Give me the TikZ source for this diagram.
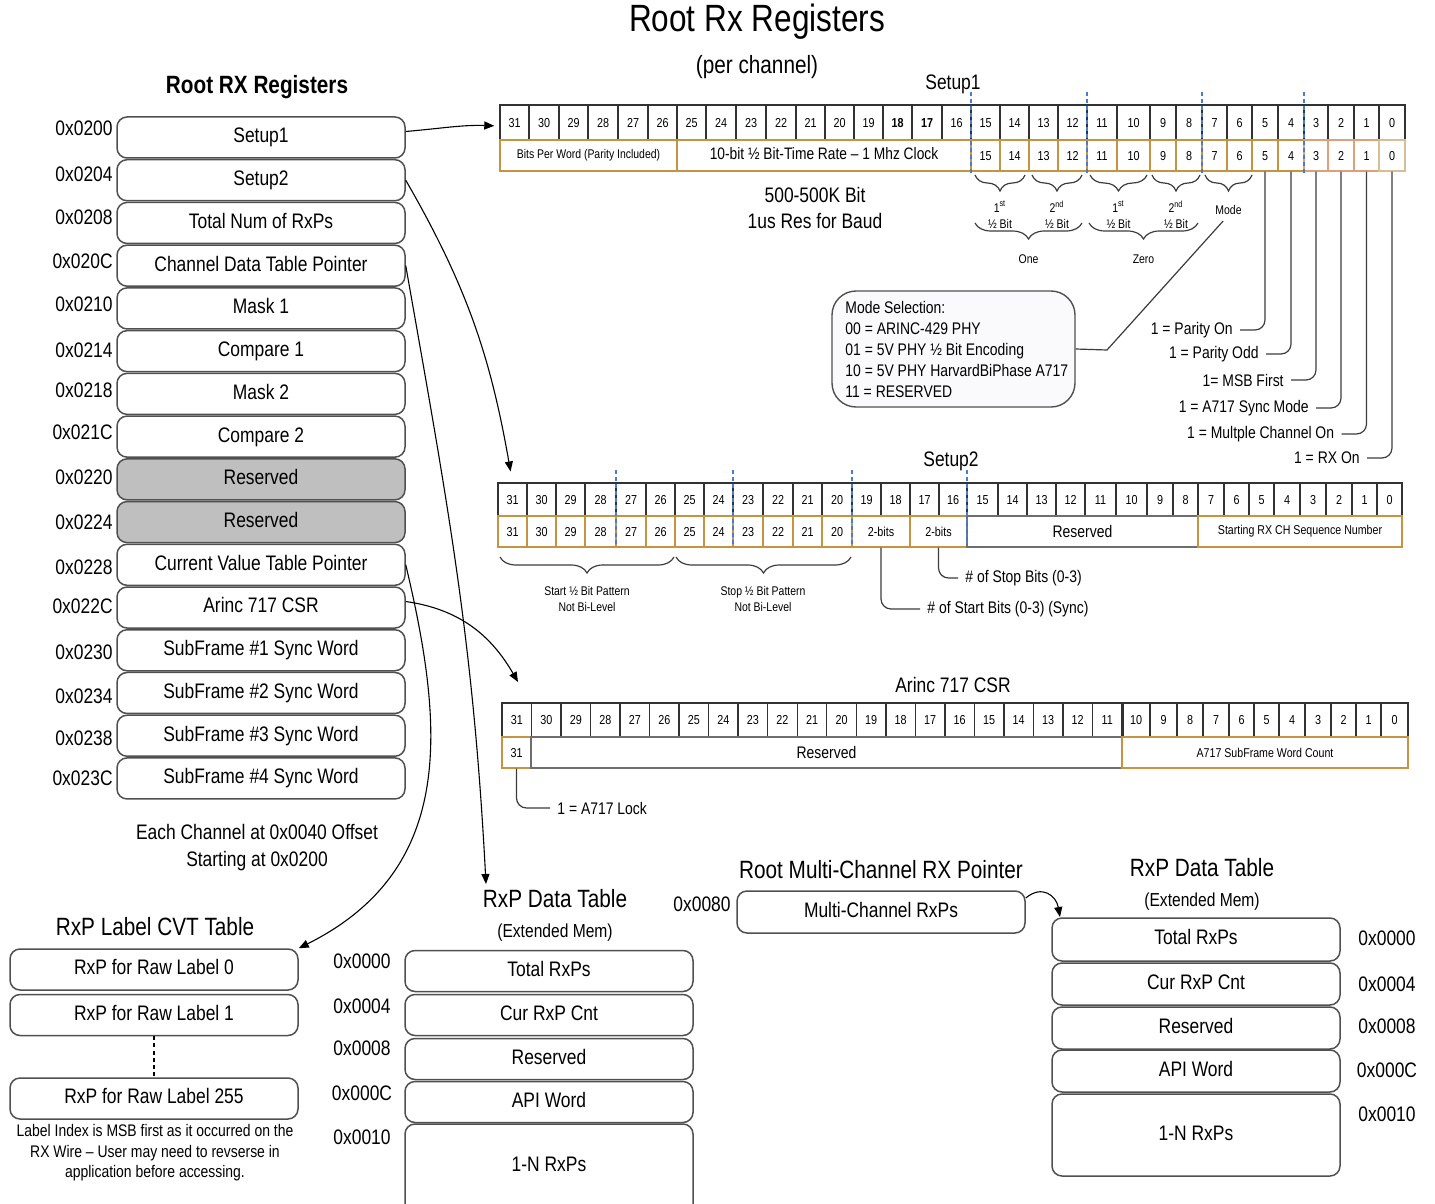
\documentclass[tikz,border=0pt]{standalone}
\usepackage{fontspec}
\setmainfont{Liberation Sans}[FakeStretch=0.83]
\usetikzlibrary{arrows.meta,decorations.pathreplacing}
\newcommand\fsz[2]{\fontsize{#1pt}{#2pt}\selectfont}
\definecolor{boxline}{RGB}{80,80,80}
\definecolor{regline}{RGB}{50,50,50}
\definecolor{gold}{RGB}{196,148,66}
\definecolor{goldred}{RGB}{222,160,120}
\definecolor{goldlt}{RGB}{215,190,150}
\definecolor{rsvline}{RGB}{110,110,110}
\definecolor{rsvfill}{RGB}{191,191,191}
\definecolor{dashblue}{RGB}{70,125,210}
\definecolor{lineclr}{RGB}{60,60,60}
\definecolor{modefill}{RGB}{250,250,252}
\begin{document}
\begin{tikzpicture}[x=0.5pt,y=-0.5pt,
  every node/.style={inner sep=0pt},
  regbox/.style={draw=boxline, line width=0.75pt, rounded corners=5pt, fill=white,
    minimum width=144pt, minimum height=20.5pt, font=\fsz{10.5}{12.6},
    text height=7.6pt, text depth=2.2pt},
  addr/.style={font=\fsz{10.5}{12.6}},
  ttl/.style={font=\fsz{12.5}{15}},
  cellbase/.style={line width=0.7pt, font=\fsz{6.5}{7.8}, text height=4.7pt, text depth=0pt},
  cellT/.style={cellbase, draw=regline},
  cellTb/.style={cellbase, draw=regline, line width=1.3pt, font=\fsz{6.5}{7.8}\bfseries},
  cellG/.style={cellbase, draw=gold},
  cellO/.style={cellbase, draw=goldred},
  cellL/.style={cellbase, draw=goldlt},
  cellR/.style={draw=rsvline, line width=0.7pt, font=\fsz{8.4}{10}},
  smalltxt/.style={font=\fsz{6.3}{8.3}, align=center},
  note/.style={font=\fsz{8.4}{10.5}},
  wire/.style={draw=lineclr, line width=0.6pt},
  brc/.style={draw=lineclr, line width=0.6pt, decorate, decoration={brace, mirror, amplitude=8pt}},
  bdash/.style={draw=dashblue, line width=0.6pt, dash pattern=on 2pt off 1.5pt},
  conn/.style={draw=black, line width=0.55pt, -{Triangle[length=5pt,width=4pt]}},
]
\useasboundingbox (0,0) rectangle (1435,1204);
\clip (0,0) rectangle (1435,1204);

% ---------- titles ----------
\node[font=\fsz{19}{22}] (maintitle) at (757,22) {Root Rx Registers};
\node[ttl] (perch) at (757,67) {(per channel)};
\node[font=\fsz{12.5}{15}\bfseries] (lefttitle) at (257,87) {Root RX Registers};

% ---------- left register column ----------
\foreach \i/\t/\a/\ay/\f in {
0/Setup1/0x0200/128/white,
1/Setup2/0x0204/174/white,
2/Total Num of RxPs/0x0208/217/white,
3/Channel Data Table Pointer/0x020C/261/white,
4/Mask 1/0x0210/304/white,
5/Compare 1/0x0214/350/white,
6/Mask 2/0x0218/390/white,
7/Compare 2/0x021C/432/white,
8/Reserved/0x0220/477/rsvfill,
9/Reserved/0x0224/522/rsvfill,
10/Current Value Table Pointer/0x0228/567/white,
11/Arinc 717 CSR/0x022C/606/white,
12/SubFrame \#1 Sync Word/0x0230/652/white,
13/SubFrame \#2 Sync Word/0x0234/696/white,
14/SubFrame \#3 Sync Word/0x0238/738/white,
15/SubFrame \#4 Sync Word/0x023C/778/white}{
  \node[regbox, fill=\f] (L\i) at (261,{137.5+\i*42.73}) {\t};
  \node[addr, anchor=east] (A\i) at (113,\ay) {\a};
}
\node[addr, align=center, font=\fsz{10.5}{13.5}] (offs) at (257,848) {Each Channel at 0x0040 Offset\\Starting at 0x0200};

% ---------- Setup1 register ----------
\node[addr] (s1title) at (953,84) {Setup1};
\foreach \l/\r/\t/\s in {500/529/31/cellT, 529/559/30/cellT, 559/588/29/cellT, 588/618/28/cellT,
  618/648/27/cellT, 648/677/26/cellT, 677/706/25/cellT, 706/736/24/cellT, 736/766/23/cellT,
  766/796/22/cellT, 796/825/21/cellT, 825/854/20/cellT, 854/883/19/cellT, 883/912/18/cellTb,
  912/942/17/cellTb, 942/971/16/cellT, 971/1000/15/cellT, 1000/1029/14/cellT, 1029/1058/13/cellT,
  1058/1087/12/cellT, 1087/1117/11/cellT, 1117/1150/10/cellT, 1150/1176/9/cellT, 1176/1202/8/cellT,
  1202/1227/7/cellT, 1227/1252/6/cellT, 1252/1278/5/cellT, 1278/1304/4/cellT, 1304/1328/3/cellT,
  1328/1354/2/cellT, 1354/1379/1/cellT, 1379/1405/0/cellT}{
  \pgfmathsetmacro\w{(\r-\l)/2}
  \node[\s, minimum width=\w pt, minimum height=17.5pt] (s1t\t) at ({(\l+\r)/2},122.5) {\t};
}
\node[cellG, minimum width=88.5pt, minimum height=15.5pt, font=\fsz{6.3}{7.5}, text depth=1.3pt] (s1bpw) at (588.5,155.5) {Bits Per Word (Parity Included)};
\node[cellG, minimum width=147pt, minimum height=15.5pt, font=\fsz{8.3}{10}, text height=6pt, text depth=1.6pt] (s1brate) at (824,155.5) {10-bit ½ Bit-Time Rate – 1 Mhz Clock};
\foreach \l/\r/\t/\s in {971/1000/15/cellG, 1000/1029/14/cellG, 1029/1058/13/cellG, 1058/1087/12/cellG,
  1087/1117/11/cellG, 1117/1150/10/cellG, 1150/1176/9/cellG, 1176/1202/8/cellG, 1202/1227/7/cellG,
  1227/1252/6/cellG, 1252/1278/5/cellG, 1278/1304/4/cellG, 1304/1328/3/cellO, 1328/1354/2/cellO,
  1354/1379/1/cellO, 1379/1405/0/cellL}{
  \pgfmathsetmacro\w{(\r-\l)/2}
  \node[\s, minimum width=\w pt, minimum height=15.5pt] (s1b\t) at ({(\l+\r)/2},155.5) {\t};
}
\foreach \x in {971,1087,1202,1304}{\draw[bdash] (\x,92) -- (\x,175);}

\node[addr, align=center, font=\fsz{10.5}{13}] (baud) at (815,208) {500-500K Bit\\1us Res for Baud};

% braces Setup1
\draw[brc] (975,175) -- (1025,175);
\draw[brc] (1032,175) -- (1082,175);
\draw[brc] (1090,175) -- (1147,175);
\draw[brc] (1152,175) -- (1200,175);
\draw[brc] (1205,175) -- (1252,175);
\draw[brc] (975,223) -- (1082,223);
\draw[brc] (1089,223) -- (1198,223);
\node[smalltxt] (h1) at (1000,215) {1\textsuperscript{st}\\½ Bit};
\node[smalltxt] (h2) at (1057,215) {2\textsuperscript{nd}\\½ Bit};
\node[smalltxt] (h3) at (1118.5,215) {1\textsuperscript{st}\\½ Bit};
\node[smalltxt] (h4) at (1176,215) {2\textsuperscript{nd}\\½ Bit};
\node[smalltxt] (modelab) at (1228.5,210) {Mode};
\node[smalltxt] (one) at (1028.5,259) {One};
\node[smalltxt] (zero) at (1143.5,259) {Zero};

% mode box
\node[draw=boxline, line width=0.7pt, rounded corners=12pt, fill=modefill, minimum width=121.5pt, minimum height=58pt] (modebox) at (953.5,349) {};
\node[note, align=left, anchor=west, font=\fsz{8.4}{10.5}] (modetxt) at (845,349) {Mode Selection:\\00 = ARINC-429 PHY\\01 = 5V PHY ½ Bit Encoding\\10 = 5V PHY HarvardBiPhase A717\\11 = RESERVED};
\draw[wire, shorten <=4pt] (modelab.south) -- (1107,350) -- (modebox.east);

% bit descriptions
\node[note, anchor=east, inner xsep=3.5pt] (bl5) at (1240,330) {1 = Parity On};
\node[note, anchor=east, inner xsep=3.5pt] (bl4) at (1266,354) {1 = Parity Odd};
\node[note, anchor=east, inner xsep=3.5pt] (bl3) at (1291,380) {1= MSB First};
\node[note, anchor=east, inner xsep=3.5pt] (bl2) at (1316,408) {1 = A717 Sync Mode};
\node[note, anchor=east, inner xsep=3.5pt] (bl1) at (1341.5,434) {1 = Multple Channel On};
\node[note, anchor=east, inner xsep=3.5pt] (bl0) at (1367,458) {1 = RX On};
\foreach \b in {5,4,3,2,1,0}{\draw[wire, rounded corners=5pt] (s1b\b.south) |- (bl\b.east);}

% ---------- Setup2 register ----------
\node[addr] (s2title) at (951,461) {Setup2};
\foreach \l/\r/\t in {498/527/31, 527/556/30, 556/585/29, 585/616/28, 616/646/27, 646/675/26,
  675/704/25, 704/733/24, 733/763/23, 763/793/22, 793/822/21, 822/852/20, 852/881/19, 881/910/18,
  910/939/17, 939/967/16, 967/998/15, 998/1027/14, 1027/1056/13, 1056/1085/12, 1085/1116/11,
  1116/1147/10, 1147/1173/9, 1173/1198/8, 1198/1224/7, 1224/1249/6, 1249/1274/5, 1274/1300/4,
  1300/1326/3, 1326/1352/2, 1352/1377/1, 1377/1402/0}{
  \pgfmathsetmacro\w{(\r-\l)/2}
  \node[cellT, minimum width=\w pt, minimum height=16.5pt] (s2t\t) at ({(\l+\r)/2},499.5) {\t};
}
\foreach \l/\r/\t in {498/527/31, 527/556/30, 556/585/29, 585/616/28, 616/646/27, 646/675/26,
  675/704/25, 704/733/24, 733/763/23, 763/793/22, 793/822/21, 822/852/20}{
  \pgfmathsetmacro\w{(\r-\l)/2}
  \node[cellG, minimum width=\w pt, minimum height=15.5pt] (s2b\t) at ({(\l+\r)/2},531.5) {\t};
}
\node[cellG, minimum width=29pt, minimum height=15.5pt] (s2bA) at (881,531.5) {2-bits};
\node[cellG, minimum width=28.5pt, minimum height=15.5pt] (s2bB) at (938.5,531.5) {2-bits};
\node[cellR, minimum width=115.5pt, minimum height=15.5pt] (s2bR) at (1082.5,531.5) {Reserved};
\node[cellG, minimum width=102pt, minimum height=15.5pt, font=\fsz{6.4}{7.6}, text depth=1.3pt] (s2bS) at (1300,531.5) {Starting RX CH Sequence Number};
\foreach \x in {616,733,852,967}{\draw[bdash] (\x,470) -- (\x,547);}
\draw[brc] (500,557) -- (674,557);
\draw[brc] (676,557) -- (851,557);
\node[smalltxt, font=\fsz{6.3}{8}] (startpat) at (587,599) {Start ½ Bit Pattern\\Not Bi-Level};
\node[smalltxt, font=\fsz{6.3}{8}] (stoppat) at (763,599) {Stop ½ Bit Pattern\\Not Bi-Level};
\node[note, anchor=west, inner xsep=3.5pt] (stopb) at (958,578) {\# of Stop Bits (0-3)};
\node[note, anchor=west, inner xsep=3.5pt] (startb) at (920,609) {\# of Start Bits (0-3) (Sync)};
\draw[wire, rounded corners=5pt] (s2bB.south) |- (stopb.west);
\draw[wire, rounded corners=5pt] (s2bA.south) |- (startb.west);

% ---------- Arinc 717 CSR ----------
\node[addr] (a7title) at (953,685) {Arinc 717 CSR};
\foreach \i in {0,...,20}{
  \pgfmathsetmacro\xc{502+\i*620/21+620/42}
  \pgfmathtruncatemacro\b{31-\i}
  \node[cellT, minimum width=14.762pt, minimum height=17pt] (a7t\b) at (\xc,720) {\b};
}
\foreach \l/\r/\t in {1122/1150/10, 1150/1177/9, 1177/1203/8, 1203/1229/7, 1229/1254/6,
  1254/1279/5, 1279/1305/4, 1305/1331/3, 1331/1356/2, 1356/1381/1, 1381/1408/0}{
  \pgfmathsetmacro\w{(\r-\l)/2}
  \node[cellT, minimum width=\w pt, minimum height=17pt] (a7t\t) at ({(\l+\r)/2},720) {\t};
}
\draw[draw=regline, line width=1.3pt] (a7t11.north east) -- (a7t11.south east);
\node[cellG, minimum width=14.5pt, minimum height=15.5pt] (a7b31) at (516.5,752.5) {31};
\node[cellR, minimum width=295.5pt, minimum height=15.5pt] (a7bR) at (826.5,752.5) {Reserved};
\node[cellG, minimum width=143pt, minimum height=15.5pt, font=\fsz{6.4}{7.6}] (a7bC) at (1265,752.5) {A717 SubFrame Word Count};
\node[note, anchor=west, inner xsep=3.5pt] (lock) at (550,808) {1 = A717 Lock};
\draw[wire, rounded corners=5pt] (a7b31.south) |- (lock.west);

% ---------- RxP Label CVT table ----------
\node[ttl] (cvttitle) at (155,927) {RxP Label CVT Table};
\node[regbox] (C0) at (154,969.5) {RxP for Raw Label 0};
\node[regbox] (C1) at (154,1015) {RxP for Raw Label 1};
\node[regbox] (C2) at (154,1098.5) {RxP for Raw Label 255};
\draw[draw=black, line width=1.2pt, dash pattern=on 2pt off 1.6pt] (C1.south) -- (C2.north);
\node[align=center, font=\fsz{8.4}{10.3}] (cvtnote) at (155,1153) {Label Index is MSB first as it occurred on the\\RX Wire – User may need to revserse in\\application before accessing.};

% ---------- middle RxP Data Table ----------
\node[ttl] (mdt) at (555,899) {RxP Data Table};
\node[font=\fsz{9.4}{11}] (mdtsub) at (555,933) {(Extended Mem)};
\node[regbox] (D0) at (549,971) {Total RxPs};
\node[regbox] (D1) at (549,1015) {Cur RxP Cnt};
\node[regbox] (D2) at (549,1059) {Reserved};
\node[regbox] (D3) at (549,1102) {API Word};
\node[regbox, minimum height=46pt] (D4) at (549,1170) {};
\node[font=\fsz{10.5}{12.6}] (D4t) at (549,1164) {1-N RxPs};
\foreach \t/\y in {0x0000/961, 0x0004/1006, 0x0008/1048, 0x000C/1093, 0x0010/1137}{
  \node[addr] (md\y) at (362,\y) {\t};
}

% ---------- right: multi-channel pointer ----------
\node[ttl] (mctitle) at (881,870) {Root Multi-Channel RX Pointer};
\node[addr] (mcaddr) at (702,904) {0x0080};
\node[regbox, minimum height=21pt] (M) at (881,912) {Multi-Channel RxPs};
\node[ttl] (rdt) at (1202,868) {RxP Data Table};
\node[font=\fsz{9.4}{11}] (rdtsub) at (1202,902) {(Extended Mem)};
\node[regbox, minimum height=21.5pt] (R0) at (1196,939.5) {Total RxPs};
\node[regbox, minimum height=21pt] (R1) at (1196,984) {Cur RxP Cnt};
\node[regbox, minimum height=21pt] (R2) at (1196,1028) {Reserved};
\node[regbox, minimum height=21pt] (R3) at (1196,1071) {API Word};
\node[regbox, minimum height=41pt] (R4) at (1196,1135) {1-N RxPs};
\foreach \t/\y in {0x0000/938, 0x0004/984, 0x0008/1026, 0x000C/1070, 0x0010/1114}{
  \node[addr] (rd\y) at (1387,\y) {\t};
}

% ---------- connectors ----------
\coordinate (cdtp) at (486,884);
\coordinate (a7in) at (518,682);
\coordinate (mcin) at (1060,917);
\draw[conn, shorten >=2.5pt] ([yshift=3pt]L0.east) to[out=5,in=178] ([yshift=-1.75pt]s1t31.west);
\draw[conn, shorten >=5.5pt] (L1.east) to[out=-60,in=100] (s2t31.north);
\draw[conn] (L3.east) to[out=-80,in=93] (cdtp);
\draw[conn] ([yshift=3pt]L11.east) to[out=-8,in=120] (a7in);
\draw[conn] (L10.east) .. controls (445,730) and (455,870) .. (C0.north east);
\draw[conn] ([yshift=7pt]M.east) to[out=40,in=100,looseness=1.4] (mcin);
\end{tikzpicture}
\end{document}
